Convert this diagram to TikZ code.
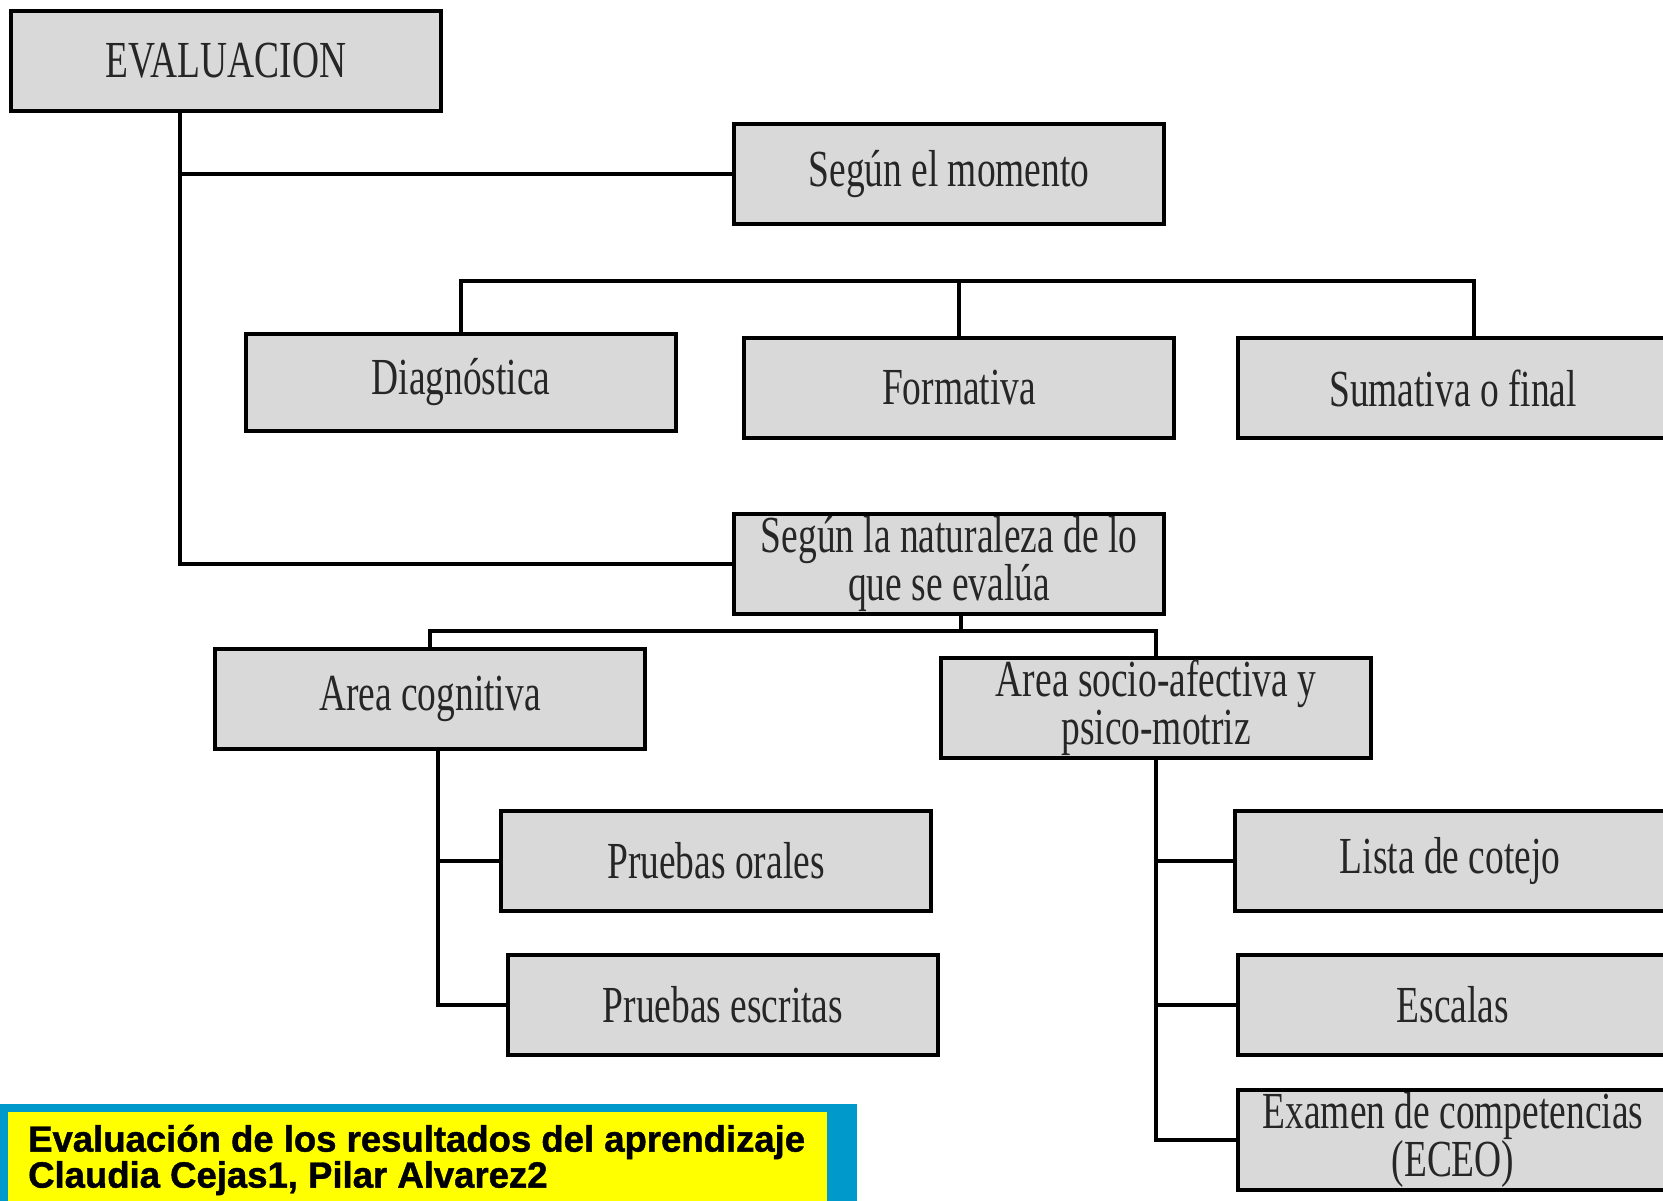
\documentclass[tikz,border=0pt]{standalone}
\usepackage{xcolor}
\usepackage{tikz}
\usepackage{fontspec}
\newfontfamily\boxfont[FakeStretch=0.72]{Liberation Serif}
\newfontfamily\notefont[FakeBold=1.2]{Liberation Sans}
\definecolor{boxgray}{RGB}{217,217,217}
\definecolor{notecyan}{RGB}{0,153,204}
\definecolor{noteyellow}{RGB}{255,255,0}
\tikzset{
	box/.style={draw, line width=4pt, fill=boxgray, minimum width=430pt, minimum height=100pt, inner sep=0pt, align=center, text=black!85, font=\boxfont\fontsize{52}{48}\selectfont},
	link/.style={line width=4pt},
	note/.style={anchor=west, align=left, inner sep=0pt, text=black, font=\notefont\bfseries\fontsize{36.5}{36}\selectfont}
}

\begin{document}
\begin{tikzpicture}[x=1pt, y=-1pt]
	\useasboundingbox (0,0) rectangle (1663,1200);
	\node[box] at (226,61) (eval) {EVALUACION};
	\node[box] at (949,174) (momento) {Según el momento};
	\node[box, minimum height=97pt] at (461,382) (diag) {Diagnóstica};
	\node[box] at (959,388) (form) {Formativa};
	\node[box] at (1453,388) (sum) {Sumativa o final};
	\node[box] at (949,564) (natur) {Según la naturaleza de lo\\que se evalúa};
	\node[box] at (430,699) (cogn) {Area cognitiva};
	\node[box] at (1156,708) (socio) {Area socio-afectiva y\\psico-motriz};
	\node[box] at (716,861) (orales) {Pruebas orales};
	\node[box] at (723,1005) (escritas) {Pruebas escritas};
	\node[box] at (1450,861) (lista) {Lista de cotejo};
	\node[box] at (1453,1005) (escalas) {Escalas};
	\node[box] at (1453,1140) (examen) {Examen de competencias\\(ECEO)};
	\coordinate (trunk) at (180,111);
	\coordinate (mbar) at (1474,281);
	\coordinate (nbar) at (961,631);
	\coordinate (ctrunk) at (438,750);
	\draw[link] (trunk) |- (momento.west);
	\draw[link] (trunk) |- (natur.west);
	\draw[link] (diag.north) -- (diag.north |- mbar) -- (mbar) -- (mbar |- sum.north);
	\draw[link] (form.north) -- (form.north |- mbar);
	\draw[link] (nbar) -- (nbar |- natur.south);
	\draw[link] (cogn.north) -- (cogn.north |- nbar) -- (socio.north |- nbar) -- (socio.north);
	\draw[link] (ctrunk) |- (escritas.west);
	\draw[link] (ctrunk |- orales.west) -- (orales.west);
	\draw[link] (socio.south) |- (examen.west);
	\draw[link] (socio.south |- lista.west) -- (lista.west);
	\draw[link] (socio.south |- escalas.west) -- (escalas.west);
	\fill[notecyan] (0,1104) rectangle (857,1210);
	\fill[noteyellow] (8,1112) rectangle (827,1210);
	\node[note] at (28,1160) (ref) {Evaluación de los resultados del aprendizaje\\Claudia Cejas1, Pilar Alvarez2};
\end{tikzpicture}
\end{document}
